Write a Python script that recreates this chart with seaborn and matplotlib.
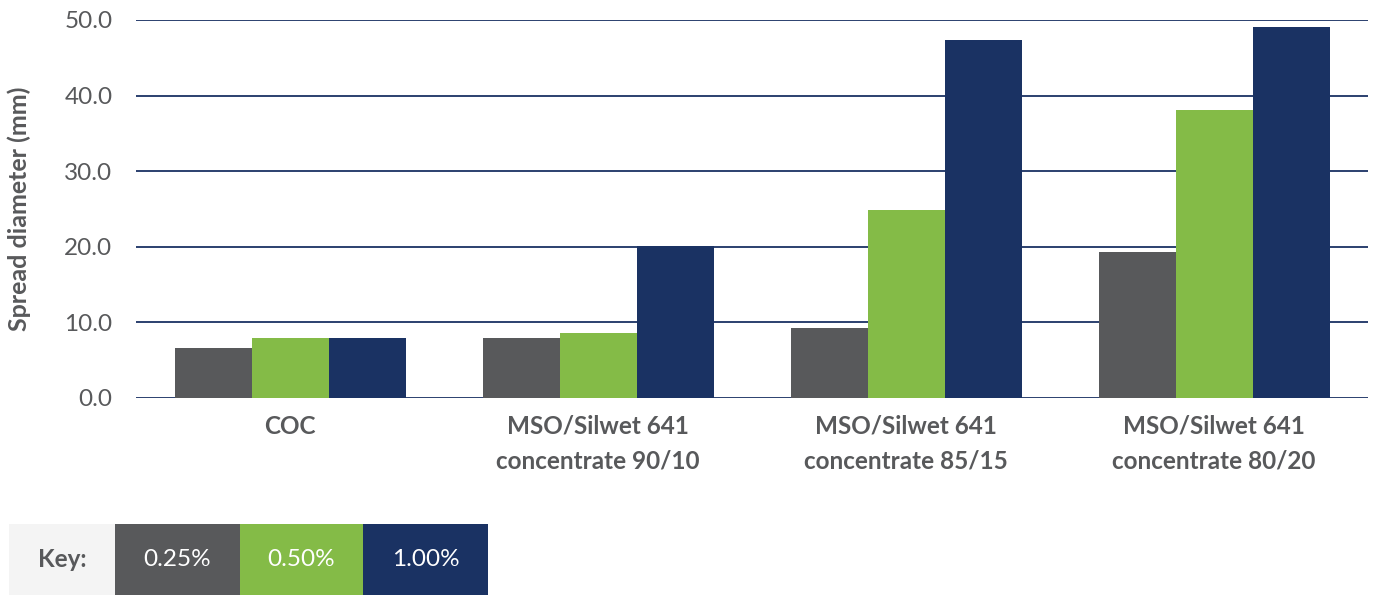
import matplotlib
matplotlib.use("Agg")
import matplotlib.pyplot as plt
from matplotlib.patches import Rectangle
import seaborn as sns
import pandas as pd

categories = ["COC", "MSO/Silwet 641\nconcentrate 90/10",
              "MSO/Silwet 641\nconcentrate 85/15", "MSO/Silwet 641\nconcentrate 80/20"]
series = ["0.25%", "0.50%", "1.00%"]
v025 = [6.6, 7.9, 9.3, 19.3]
v050 = [7.9, 8.6, 24.9, 38.1]
v100 = [7.9, 20.1, 47.4, 49.1]
yticks = [0, 10, 20, 30, 40, 50]

colors = ["#58595b", "#84bb47", "#1a3263"]
text_col = "#58595b"

rows = []
for s, vals in zip(series, [v025, v050, v100]):
    for c, v in zip(categories, vals):
        rows.append({"cat": c, "conc": s, "val": v})
df = pd.DataFrame(rows)

sns.set_style("white")
plt.rcParams["font.family"] = ["Lato", "DejaVu Sans"]

FS = 17.5
fig = plt.figure(figsize=(13.78, 5.96), dpi=100)
ax = fig.add_axes([136/1378, 1 - 398/596, (1368-136)/1378, (398-20)/596])

sns.barplot(data=df, x="cat", y="val", hue="conc", palette=colors,
            order=categories, hue_order=series, width=0.75, saturation=1,
            ax=ax, legend=False, linewidth=0)

ax.set_ylim(0, 50)
ax.set_xlim(-0.5, len(categories) - 0.5)
ax.set_yticks(yticks)
ax.set_yticklabels([f"{t:.1f}" for t in yticks], fontsize=FS, color=text_col)
ax.tick_params(axis="y", length=0, pad=17)
ax.tick_params(axis="x", length=0, pad=12)
for lab in ax.get_xticklabels():
    lab.set_fontsize(FS)
    lab.set_fontweight("bold")
    lab.set_color(text_col)
    lab.set_linespacing(1.62)
ax.set_xlabel("")
ax.set_ylabel("Spread diameter (mm)", fontsize=18, fontweight="bold",
              color=text_col, labelpad=14)
ax.yaxis.set_label_coords(-105/1232, 0.5)
for sp in ax.spines.values():
    sp.set_visible(False)
ax.yaxis.grid(True, color="#1a3263", linewidth=1.3)
ax.set_axisbelow(True)

# key
H = 596
y0 = 1 - 595/H
h = (595-524)/H
fig.patches.append(Rectangle((9/1378, y0), (115-9)/1378, h, transform=fig.transFigure,
                             facecolor="#f4f4f4", edgecolor="none"))
fig.text(62/1378, y0 + h/2, "Key:", ha="center", va="center", fontsize=FS,
         fontweight="bold", color=text_col)
xs = [115, 240, 363, 488]
for i, s in enumerate(series):
    fig.patches.append(Rectangle((xs[i]/1378, y0), (xs[i+1]-xs[i])/1378, h,
                                 transform=fig.transFigure, facecolor=colors[i],
                                 edgecolor="none"))
    fig.text((xs[i]+xs[i+1])/2/1378, y0 + h/2, s, ha="center", va="center",
             fontsize=FS, color="white")

fig.savefig("out.png", dpi=100)
